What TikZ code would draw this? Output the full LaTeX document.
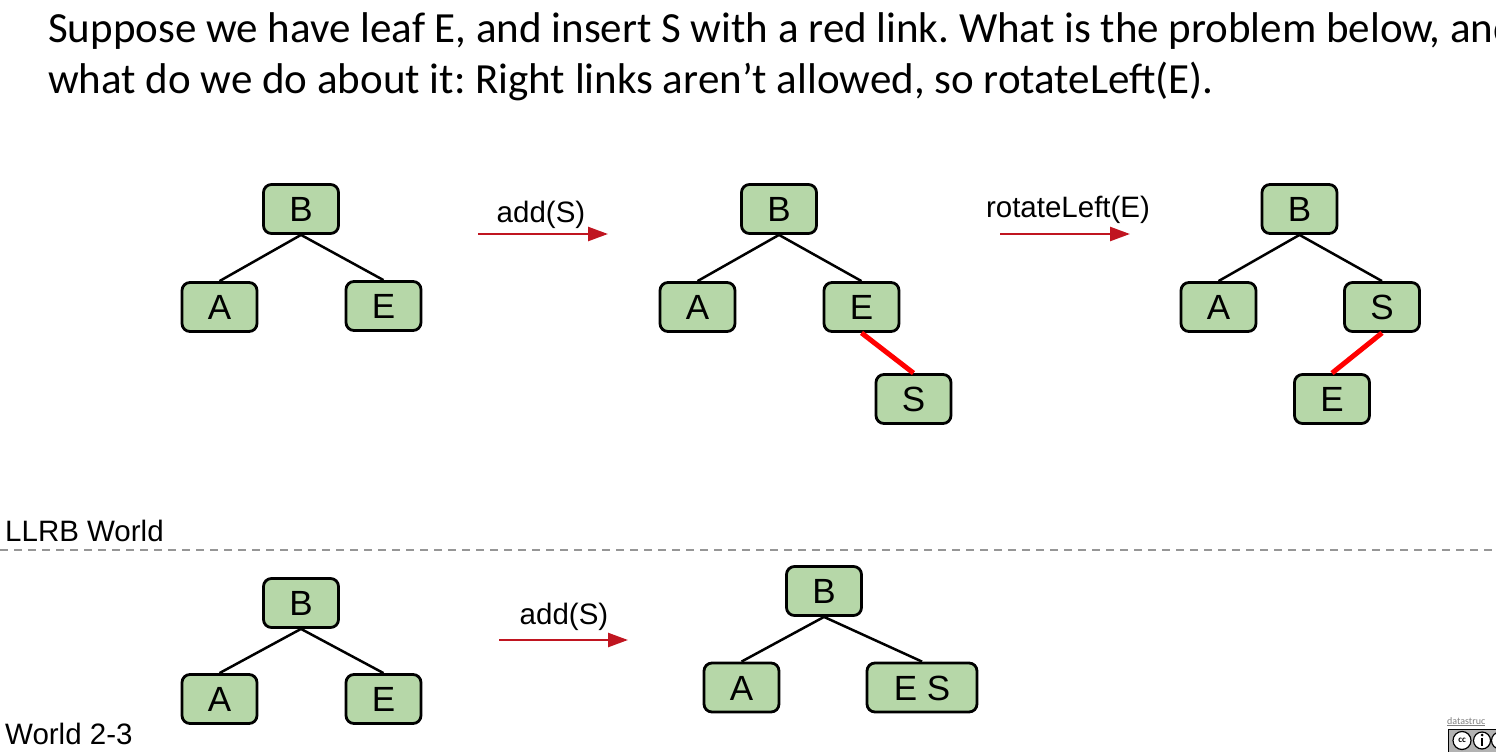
\documentclass[tikz,border=0pt]{standalone}
\usepackage{fontspec}
\setmainfont{Carlito}
\newfontfamily\arialf{Liberation Sans}
\usetikzlibrary{arrows.meta}
\definecolor{boxgreen}{RGB}{182,215,168}
\definecolor{arrowred}{RGB}{192,21,32}
\definecolor{dashgray}{RGB}{150,150,150}
\tikzset{
  keybox/.style={draw=black, line width=2.8pt, fill=boxgreen, rounded corners=8pt,
    minimum width=75pt, minimum height=49pt, inner sep=0pt,
    text height=25pt, text depth=0pt,
    font=\arialf\fontsize{35}{35}\selectfont},
  widebox/.style={keybox, minimum width=110pt},
  blacklink/.style={line width=2.5pt, black},
  redlink/.style={line width=5pt, red},
  oparrow/.style={line width=2.5pt, arrowred, -{Triangle[length=20pt,width=14pt]}},
  oplabel/.style={anchor=base, inner sep=0pt, font=\arialf\fontsize{29.5}{29.5}\selectfont},
  worldlabel/.style={anchor=base west, inner sep=0pt, font=\arialf\fontsize{29.5}{29.5}\selectfont},
  titletext/.style={anchor=base west, inner sep=0pt, font=\fontsize{43}{50}\selectfont}
}
\begin{document}
\frenchspacing
\begin{tikzpicture}[x=1pt,y=-1pt]
\useasboundingbox (0,0) rectangle (1496,752);
% title
\node[titletext] (t1) at (48,43) {Suppose we have leaf E, and insert S with a red link. What is the problem below, and};
\node[titletext] (t2) at (48,93) {what do we do about it: Right links aren’t allowed, so rotateLeft(E).};

% tree 1
\node[keybox] (b1) at (301,209) {B};
\node[keybox] (a1) at (219.5,307) {A};
\node[keybox] (e1) at (383.5,306) {E};
\draw[blacklink] (b1.south) -- (a1.north);
\draw[blacklink] (b1.south) -- (e1.north);

% arrow 1
\coordinate (p1s) at (478,234);
\coordinate (p1e) at (608,234);
\draw[oparrow] (p1s) -- (p1e);
\node[oplabel] (l1) at (541,222) {add(S)};

% tree 2
\node[keybox] (b2) at (779,209) {B};
\node[keybox] (a2) at (697.5,307) {A};
\node[keybox] (e2) at (861.5,307) {E};
\node[keybox] (s2) at (913.5,399) {S};
\draw[blacklink] (b2.south) -- (a2.north);
\draw[blacklink] (b2.south) -- (e2.north);
\draw[redlink] (e2.south) -- (s2.north);

% arrow 2
\coordinate (p2s) at (1000,234);
\coordinate (p2e) at (1130,234);
\draw[oparrow] (p2s) -- (p2e);
\node[oplabel] (l2) at (1068,217) {rotateLeft(E)};

% tree 3
\node[keybox] (b3) at (1299.5,209) {B};
\node[keybox] (a3) at (1218.5,307) {A};
\node[keybox] (s3) at (1382,307) {S};
\node[keybox] (e3) at (1332,399) {E};
\draw[blacklink] (b3.south) -- (a3.north);
\draw[blacklink] (b3.south) -- (s3.north);
\draw[redlink] (s3.south) -- (e3.north);

% separator
\node[worldlabel] (llrb) at (5,541) {LLRB World};
\coordinate (dl) at (0,550);
\coordinate (dr) at (1496,550);
\draw[dashgray, line width=1.5pt, dash pattern=on 8pt off 6pt] (dl) -- (dr);

% tree 4
\node[keybox] (b4) at (301,603) {B};
\node[keybox] (a4) at (219.5,699) {A};
\node[keybox] (e4) at (383.5,699) {E};
\draw[blacklink] (b4.south) -- (a4.north);
\draw[blacklink] (b4.south) -- (e4.north);

% arrow 3
\coordinate (p3s) at (499,640);
\coordinate (p3e) at (628,640);
\draw[oparrow] (p3s) -- (p3e);
\node[oplabel] (l3) at (564,624) {add(S)};

% tree 5
\node[keybox] (b5) at (824,591) {B};
\node[keybox] (a5) at (741.5,687.5) {A};
\node[widebox] (es5) at (922,687.5) {E S};
\draw[blacklink] (b5.south) -- (a5.north);
\draw[blacklink] (b5.south) -- (es5.north);

\node[worldlabel] (w23) at (5,744) {World 2-3};

% license badge
\node[anchor=base west, inner sep=0pt, text=gray, font=\fontsize{10}{10}\selectfont] (ds) at (1447,724) {\underline{datastruc}};
\draw[black, fill=gray!60, line width=0.8pt] (1448,729) rectangle (1500,752);
\node[circle, draw=black, fill=white, line width=1.2pt, inner sep=0pt, minimum size=18pt, font=\bfseries\fontsize{9}{9}\selectfont] (cc) at (1462,740.5) {cc};
\node[circle, draw=black, fill=white, line width=1.2pt, inner sep=0pt, minimum size=17pt] (by) at (1482,740.5) {};
\node[circle, fill=black, inner sep=0pt, minimum size=3pt] (byh) at (1482,735) {};
\draw[line width=2.5pt] (1482,738) -- (1482,746);
\node[circle, draw=black, fill=white, line width=1.2pt, inner sep=0pt, minimum size=17pt] (nc) at (1500,740.5) {};
\end{tikzpicture}
\end{document}
